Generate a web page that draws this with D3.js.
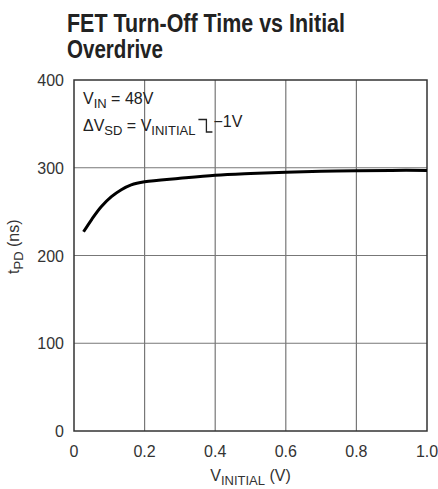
<!DOCTYPE html>
<html>
<head>
<meta charset="utf-8">
<script src="https://cdn.jsdelivr.net/npm/d3@7"></script>
<style>
  body { margin: 0; background: #fff; }
  text { font-family: "Liberation Sans", Arial, sans-serif; }
</style>
</head>
<body>
<svg id="chart" width="438" height="489"></svg>
<script>
// values
const vInitial = [0.027, 0.05, 0.077, 0.106, 0.134, 0.162, 0.2, 0.3, 0.4, 0.5, 0.6, 0.7, 0.8, 0.9, 1.0];
const tPD = [227, 241, 255.5, 267, 275, 280.5, 284, 288, 291.5, 293.5, 295, 296, 296.5, 297, 297];
const xTicks = [0, 0.2, 0.4, 0.6, 0.8, 1.0];
const xTickLabels = ["0", "0.2", "0.4", "0.6", "0.8", "1.0"];
const yTicks = [0, 100, 200, 300, 400];

const svg = d3.select("#chart");
const plotLeft = 74, plotRight = 427, plotTop = 80, plotBottom = 431;

const x = d3.scaleLinear().domain([0, 1]).range([plotLeft, plotRight]);
const y = d3.scaleLinear().domain([0, 400]).range([plotBottom, plotTop]);

// title, condensed bold
svg.append("text")
    .attr("x", 67).attr("y", 32)
    .attr("font-size", 25).attr("font-weight", "bold").attr("fill", "#222")
    .attr("textLength", 278).attr("lengthAdjust", "spacingAndGlyphs")
    .text("FET Turn-Off Time vs Initial");
svg.append("text")
    .attr("x", 67).attr("y", 58)
    .attr("font-size", 25).attr("font-weight", "bold").attr("fill", "#222")
    .attr("textLength", 96).attr("lengthAdjust", "spacingAndGlyphs")
    .text("Overdrive");

// grid
svg.append("g").selectAll("line").data(xTicks.slice(1, -1)).join("line")
    .attr("x1", d => x(d)).attr("x2", d => x(d))
    .attr("y1", plotTop).attr("y2", plotBottom)
    .attr("stroke", "#777").attr("stroke-width", 1.2);
svg.append("g").selectAll("line").data(yTicks.slice(1, -1)).join("line")
    .attr("x1", plotLeft).attr("x2", plotRight)
    .attr("y1", d => y(d)).attr("y2", d => y(d))
    .attr("stroke", "#777").attr("stroke-width", 1.2);

// frame
svg.append("rect")
    .attr("x", plotLeft).attr("y", plotTop)
    .attr("width", plotRight - plotLeft).attr("height", plotBottom - plotTop)
    .attr("fill", "none").attr("stroke", "#333").attr("stroke-width", 1.5);

// tick labels
svg.append("g").selectAll("text").data(xTicks).join("text")
    .attr("x", d => x(d)).attr("y", 457)
    .attr("text-anchor", "middle").attr("font-size", 16).attr("fill", "#333")
    .text((d, i) => xTickLabels[i]);
svg.append("g").selectAll("text").data(yTicks).join("text")
    .attr("x", 64).attr("y", d => y(d) + 6)
    .attr("text-anchor", "end").attr("font-size", 16).attr("fill", "#333")
    .text(d => d);

// axis labels
const xl = svg.append("text")
    .attr("x", x(0.5)).attr("y", 481)
    .attr("text-anchor", "middle").attr("font-size", 16).attr("fill", "#333");
xl.append("tspan").text("V");
xl.append("tspan").attr("font-size", 13).attr("dy", 4).text("INITIAL");
xl.append("tspan").attr("dy", -4).text(" (V)");

const yl = svg.append("text")
    .attr("transform", "translate(19," + y(210) + ") rotate(-90)")
    .attr("text-anchor", "middle").attr("font-size", 16).attr("fill", "#333");
yl.append("tspan").text("t");
yl.append("tspan").attr("font-size", 13).attr("dy", 4).text("PD");
yl.append("tspan").attr("dy", -4).text(" (ns)");

// annotation
const a1 = svg.append("text").attr("x", 83).attr("y", 104)
    .attr("font-size", 16).attr("fill", "#222");
a1.append("tspan").text("V");
a1.append("tspan").attr("font-size", 13).attr("dy", 4).text("IN");
a1.append("tspan").attr("dy", -4).text(" = 48V");

const a2 = svg.append("text").attr("x", 83).attr("y", 131)
    .attr("font-size", 16).attr("fill", "#222");
a2.append("tspan").text("ΔV");
a2.append("tspan").attr("font-size", 13).attr("dy", 4).text("SD");
a2.append("tspan").attr("dy", -4).text(" = V");
a2.append("tspan").attr("font-size", 13).attr("dy", 4).text("INITIAL");
const a2end = a2.node().getComputedTextLength() + 83;
// falling edge symbol
const sx = a2end + 3;
svg.append("path")
    .attr("d", `M${sx},119.5 H${sx + 8} V132 H${sx + 14}`)
    .attr("fill", "none").attr("stroke", "#222").attr("stroke-width", 1.3);
svg.append("text").attr("x", sx + 15).attr("y", 127)
    .attr("font-size", 16).attr("fill", "#222").text("−1V");

// curve
const pts = vInitial.map((v, i) => [v, tPD[i]]);
const line = d3.line().x(d => x(d[0])).y(d => y(d[1])).curve(d3.curveCatmullRom.alpha(0.5));
svg.append("path").datum(pts)
    .attr("d", line)
    .attr("fill", "none").attr("stroke", "#000").attr("stroke-width", 3)
    .attr("stroke-linejoin", "round");
</script>
</body>
</html>
